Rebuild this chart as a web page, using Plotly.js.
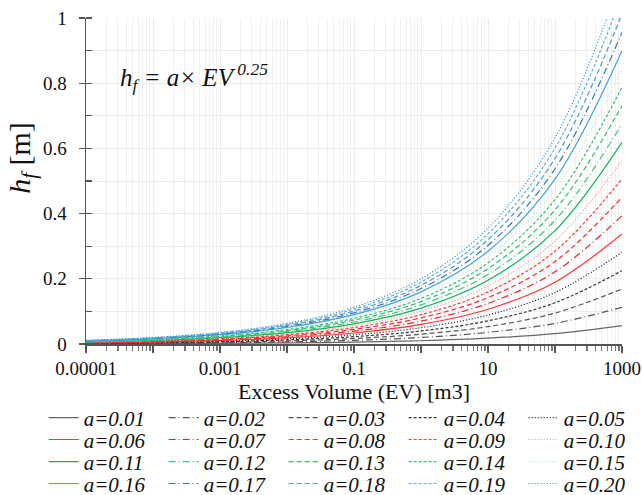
<!DOCTYPE html>
<html>
<head>
<meta charset="utf-8">
<script src="https://cdn.plot.ly/plotly-3.0.1.min.js"></script>
<style>html,body{margin:0;padding:0;background:#fff;}#chart{width:642px;height:495px;}</style>
</head>
<body>
<div id="chart"></div>
<script>
// Excess volume EV [m3] (x positions, one per decade)
const evValues = [0.00001, 0.0001, 0.001, 0.01, 0.1, 1, 10, 100, 1000];

// h_f [m] read at each decade for every coefficient a
const seriesNames = ['a=0.01','a=0.02','a=0.03','a=0.04','a=0.05',
                     'a=0.06','a=0.07','a=0.08','a=0.09','a=0.10',
                     'a=0.11','a=0.12','a=0.13','a=0.14','a=0.15',
                     'a=0.16','a=0.17','a=0.18','a=0.19','a=0.20'];
const hf01 = [0.0006, 0.0010, 0.0018, 0.0032, 0.0056, 0.010, 0.0178, 0.0316, 0.0562];
const hf02 = [0.0011, 0.0020, 0.0036, 0.0063, 0.0112, 0.020, 0.0356, 0.0632, 0.1125];
const hf03 = [0.0017, 0.0030, 0.0053, 0.0095, 0.0169, 0.030, 0.0533, 0.0949, 0.1687];
const hf04 = [0.0022, 0.0040, 0.0071, 0.0126, 0.0225, 0.040, 0.0711, 0.1265, 0.2249];
const hf05 = [0.0028, 0.0050, 0.0089, 0.0158, 0.0281, 0.050, 0.0889, 0.1581, 0.2812];
const hf06 = [0.0034, 0.0060, 0.0107, 0.0190, 0.0337, 0.060, 0.1067, 0.1897, 0.3374];
const hf07 = [0.0039, 0.0070, 0.0124, 0.0221, 0.0394, 0.070, 0.1245, 0.2214, 0.3936];
const hf08 = [0.0045, 0.0080, 0.0142, 0.0253, 0.0450, 0.080, 0.1423, 0.2530, 0.4499];
const hf09 = [0.0051, 0.0090, 0.0160, 0.0285, 0.0506, 0.090, 0.1600, 0.2846, 0.5061];
const hf10 = [0.0056, 0.0100, 0.0178, 0.0316, 0.0562, 0.100, 0.1778, 0.3162, 0.5623];
const hf11 = [0.0062, 0.0110, 0.0196, 0.0348, 0.0619, 0.110, 0.1956, 0.3478, 0.6186];
const hf12 = [0.0067, 0.0120, 0.0213, 0.0379, 0.0675, 0.120, 0.2134, 0.3795, 0.6748];
const hf13 = [0.0073, 0.0130, 0.0231, 0.0411, 0.0731, 0.130, 0.2312, 0.4111, 0.7310];
const hf14 = [0.0079, 0.0140, 0.0249, 0.0443, 0.0787, 0.140, 0.2490, 0.4427, 0.7873];
const hf15 = [0.0084, 0.0150, 0.0267, 0.0474, 0.0844, 0.150, 0.2667, 0.4743, 0.8435];
const hf16 = [0.0090, 0.0160, 0.0285, 0.0506, 0.0900, 0.160, 0.2845, 0.5060, 0.8997];
const hf17 = [0.0096, 0.0170, 0.0302, 0.0538, 0.0956, 0.170, 0.3023, 0.5376, 0.9560];
const hf18 = [0.0101, 0.0180, 0.0320, 0.0569, 0.1012, 0.180, 0.3201, 0.5692, 1.0122];
const hf19 = [0.0107, 0.0190, 0.0338, 0.0601, 0.1068, 0.190, 0.3379, 0.6008, 1.0684];
const hf20 = [0.0112, 0.0200, 0.0356, 0.0632, 0.1125, 0.200, 0.3557, 0.6325, 1.1247];
const seriesValues = [hf01,hf02,hf03,hf04,hf05,hf06,hf07,hf08,hf09,hf10,
                      hf11,hf12,hf13,hf14,hf15,hf16,hf17,hf18,hf19,hf20];

// Axis ticks
const xTickVals = [0.00001, 0.0001, 0.001, 0.01, 0.1, 1, 10, 100, 1000];
const xTickText = ['0.00001', '', '0.001', '', '0.1', '', '10', '', '1000'];

// Styles
const lineColors = ['#666666','#555555','#555555','#333333','#111111',
                    '#ff3333','#e8202a','#ff2a2a','#ff3b3b','#ff8c8c',
                    '#12b45a','#44c47e','#2fbf6e','#35c070','#b4e8d2',
                    '#48a2dc','#2b7bbd','#4f98cf','#66afe0','#1d8fd6'];
const lineDashes = ['solid','7px,3px,1px,3px','5px,3px','3px,2px','1px,2px'];

const xMinor = [];
for (let e = -5; e < 3; e++) for (let d = 2; d <= 9; d++) xMinor.push(d * Math.pow(10, e));

const legendKeys = ['legend','legend2','legend3','legend4'];
const traces = seriesNames.map((nm, i) => ({
  type: 'scatter', mode: 'lines', name: nm,
  x: evValues, y: seriesValues[i],
  line: {color: lineColors[i], width: 1.2, dash: lineDashes[i % 5], shape: 'spline', smoothing: 1},
  legend: legendKeys[Math.floor(i / 5)]
}));

const FONT = 'Liberation Serif, Times New Roman, serif';
const legendRowY = [-0.227, -0.294, -0.362, -0.429];
function mkLegend(y) {
  return {
    orientation: 'h', x: -0.079, xanchor: 'left', y: y, yanchor: 'middle',
    entrywidth: 75, entrywidthmode: 'pixels', bgcolor: 'rgba(0,0,0,0)',
    font: {family: FONT, size: 21, style: 'italic', color: '#111'},
    itemwidth: 30, tracegroupgap: 0
  };
}

const layout = {
  width: 642, height: 495,
  margin: {l: 86, r: 20, t: 18, b: 151, autoexpand: false},
  paper_bgcolor: '#ffffff', plot_bgcolor: '#ffffff',
  font: {family: FONT, color: '#111'},
  showlegend: true,
  legend: mkLegend(legendRowY[0]),
  legend2: mkLegend(legendRowY[1]),
  legend3: mkLegend(legendRowY[2]),
  legend4: mkLegend(legendRowY[3]),
  xaxis: {
    type: 'log', range: [-5, 3],
    tickmode: 'array', tickvals: xTickVals, ticktext: xTickText,
    ticks: 'outside', ticklen: 7, tickcolor: '#555', tickwidth: 1.2,
    tickfont: {family: FONT, size: 19, color: '#111'},
    showline: true, linecolor: '#555', linewidth: 1.5,
    showgrid: true, gridcolor: '#ececec', gridwidth: 1, zeroline: false,
    minor: {tickmode: 'array', tickvals: xMinor, ticks: 'outside', ticklen: 5,
            tickcolor: '#777', showgrid: true, gridcolor: '#f0f0f0', gridwidth: 1},
    title: {text: 'Excess Volume (EV) [m3]', font: {family: FONT, size: 22, color: '#111'}, standoff: 4}
  },
  yaxis: {
    range: [0, 1], dtick: 0.2, tick0: 0,
    ticks: 'outside', ticklen: 6, tickcolor: '#555', tickwidth: 1.2,
    ticklabelstandoff: 8,
    tickfont: {family: FONT, size: 19, color: '#111'},
    showline: true, linecolor: '#555', linewidth: 1.5,
    showgrid: true, gridcolor: '#ececec', gridwidth: 1, zeroline: false,
    minor: {dtick: 0.1, ticks: 'inside', ticklen: 6, tickcolor: '#555', showgrid: true, gridcolor: '#ececec'}
  },
  annotations: [{
    xref: 'paper', yref: 'paper', x: 0.06, y: 0.82, xanchor: 'left', yanchor: 'middle',
    showarrow: false,
    text: 'h<sub>f</sub> = a× EV<sup> 0.25</sup>',
    font: {family: FONT, size: 25, style: 'italic', color: '#111'}
  }, {
    xref: 'paper', yref: 'paper', x: -0.12, y: 0.57, xanchor: 'center', yanchor: 'middle',
    showarrow: false, textangle: -90,
    text: '<i>h</i><sub><i>f</i></sub> [m]',
    font: {family: FONT, size: 30, color: '#111'}
  }]
};

Plotly.newPlot('chart', traces, layout, {displayModeBar: false, staticPlot: true});
</script>
</body>
</html>
